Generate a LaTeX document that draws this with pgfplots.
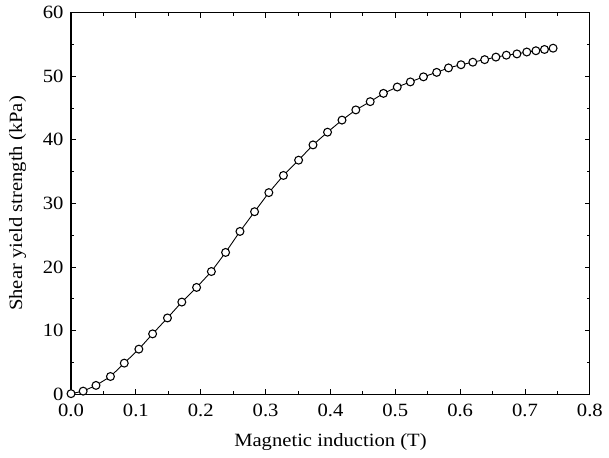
\documentclass[border=0pt]{standalone}
\usepackage{fontspec}
\setmainfont{Liberation Serif}[FakeStretch=1.1]
\usepackage{pgfplots}
\pgfplotsset{compat=1.18}

\begin{document}
\fontsize{9.5pt}{11pt}\selectfont
\begin{tikzpicture}
\begin{axis}[
    scale only axis,
    width=263pt,
    height=193.5pt,
    xmin=0, xmax=0.8,
    ymin=0, ymax=60,
    xtick={0,0.1,...,0.8},
    ytick={0,10,...,60},
    minor x tick num=1,
    minor y tick num=1,
    tick align=inside,
    major tick length=2.6pt,
    minor tick length=1.5pt,
    /pgf/number format/assume math mode=true,
    xticklabel style={yshift=-1.8pt,/pgf/number format/fixed,/pgf/number format/fixed zerofill,/pgf/number format/precision=1},
    yticklabel style={xshift=-0.5pt},
    axis line style={line width=0.6pt},
    every tick/.style={line width=0.5pt,black},
    xlabel={Magnetic induction (T)},
    ylabel={Shear yield strength (kPa)},
    xlabel style={at={([yshift=-24pt]axis description cs:0.5,0)},anchor=center},
    ylabel style={at={([xshift=-27pt]axis description cs:0,0.5)},anchor=center},
    clip=false,
]
\addplot[black, line width=0.45pt, mark=*, mark size=2.0pt,
    mark options={fill=white, draw=black, line width=0.55pt}] coordinates {
(0,0.1) (0.0187,0.5) (0.0385,1.4) (0.0608,2.8) (0.0821,4.9) (0.1046,7.1)
(0.1258,9.5) (0.1487,12.0) (0.1708,14.5) (0.1936,16.8) (0.2164,19.3)
(0.2383,22.3) (0.2605,25.6) (0.283,28.7) (0.305,31.7) (0.3275,34.4)
(0.3509,36.8) (0.3731,39.2) (0.3955,41.2) (0.4178,43.1) (0.4391,44.7)
(0.4613,46.0) (0.4817,47.3) (0.5030,48.3) (0.5232,49.1) (0.5434,49.9)
(0.5638,50.6) (0.5820,51.3) (0.6013,51.8) (0.6195,52.2) (0.6378,52.6)
(0.6551,53.0) (0.6712,53.3) (0.6875,53.5) (0.7027,53.8) (0.7168,54.0)
(0.7300,54.2) (0.7433,54.4)
};
\end{axis}
\path ([xshift=-36pt,yshift=-32pt]current axis.south west) rectangle ([xshift=5.5pt,yshift=5pt]current axis.north east);
\end{tikzpicture}
\end{document}
